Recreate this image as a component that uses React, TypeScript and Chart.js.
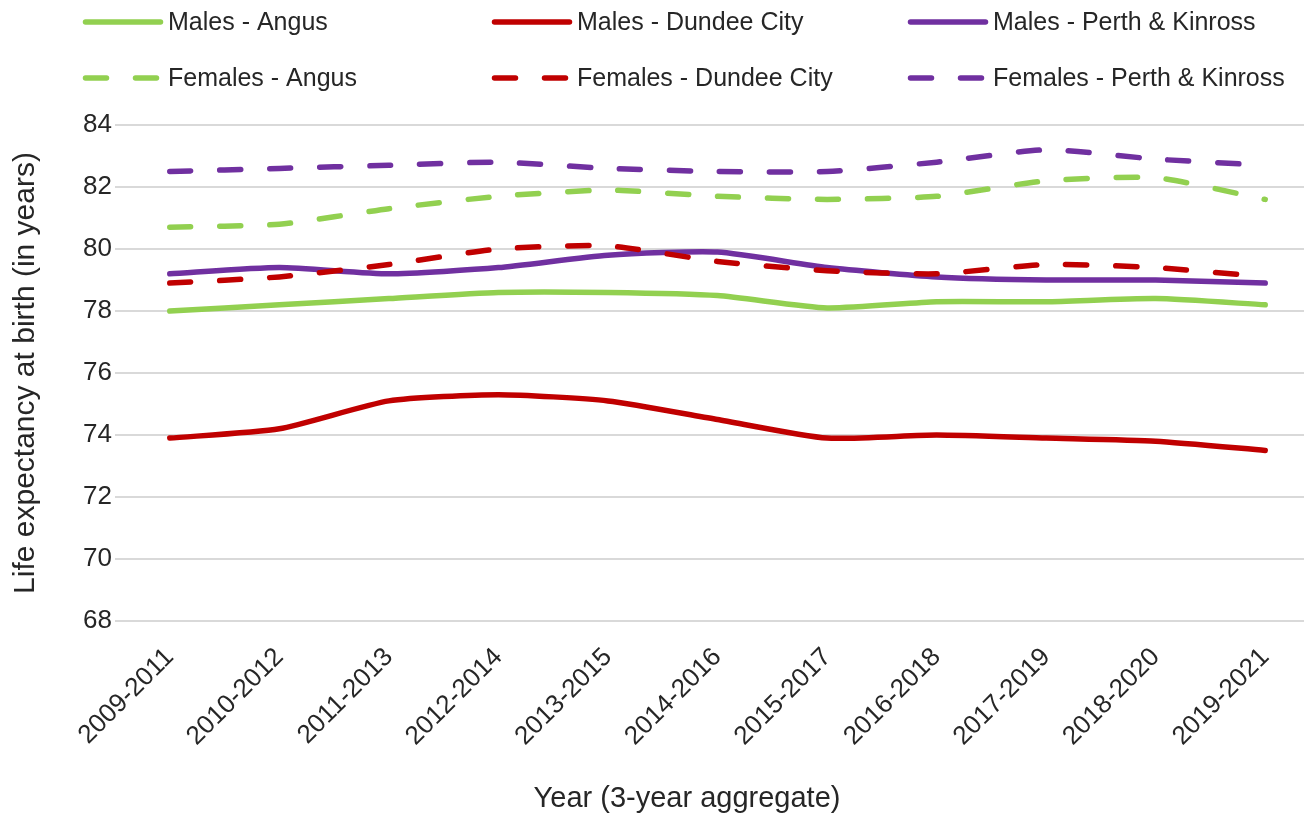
import { useEffect, useRef } from 'react';
import { Chart, registerables } from 'chart.js';

Chart.register(...registerables);

const categories = [
  '2009-2011', '2010-2012', '2011-2013', '2012-2014', '2013-2015', '2014-2016',
  '2015-2017', '2016-2018', '2017-2019', '2018-2020', '2019-2021',
];

const malesAngus = [78.0, 78.2, 78.4, 78.6, 78.6, 78.5, 78.1, 78.3, 78.3, 78.4, 78.2];
const malesDundee = [73.9, 74.2, 75.1, 75.3, 75.1, 74.5, 73.9, 74.0, 73.9, 73.8, 73.5];
const malesPerth = [79.2, 79.4, 79.2, 79.4, 79.8, 79.9, 79.4, 79.1, 79.0, 79.0, 78.9];
const femalesAngus = [80.7, 80.8, 81.3, 81.7, 81.9, 81.7, 81.6, 81.7, 82.2, 82.3, 81.6];
const femalesDundee = [78.9, 79.1, 79.5, 80.0, 80.1, 79.6, 79.3, 79.2, 79.5, 79.4, 79.1];
const femalesPerth = [82.5, 82.6, 82.7, 82.8, 82.6, 82.5, 82.5, 82.8, 83.2, 82.9, 82.7];

const seriesLabels = [
  'Males - Angus', 'Males - Dundee City', 'Males - Perth & Kinross',
  'Females - Angus', 'Females - Dundee City', 'Females - Perth & Kinross',
];

const yMin = 68;
const yMax = 84;
const yStep = 2;

const yTitle = 'Life expectancy at birth (in years)';
const xTitle = 'Year (3-year aggregate)';

const GREEN = '#92D050';
const RED = '#C00000';
const PURPLE = '#7030A0';
const TEXT = '#262626';
const FONT = '"Liberation Sans", Arial, sans-serif';
const DASH = [21, 29];

const gridLegend = {
  id: 'gridLegend',
  afterDraw(chart: any) {
    const ctx = chart.ctx as CanvasRenderingContext2D;
    const colX = [83, 492, 908];
    const rowY = [22, 78];
    const len = 80;
    chart.data.datasets.forEach((ds: any, i: number) => {
      const x = colX[i % 3];
      const y = rowY[Math.floor(i / 3)];
      ctx.save();
      ctx.strokeStyle = ds.borderColor;
      ctx.lineWidth = ds.borderWidth;
      ctx.lineCap = 'round';
      ctx.setLineDash(ds.borderDash || []);
      ctx.beginPath();
      ctx.moveTo(x + 2.5, y);
      ctx.lineTo(x + len - 2.5, y);
      ctx.stroke();
      ctx.setLineDash([]);
      ctx.fillStyle = TEXT;
      ctx.font = `25px ${FONT}`;
      ctx.textAlign = 'left';
      ctx.textBaseline = 'middle';
      ctx.fillText(ds.label, x + len + 5, y + 1);
      ctx.restore();
    });
    ctx.save();
    ctx.fillStyle = TEXT;
    ctx.font = `29px ${FONT}`;
    ctx.textAlign = 'center';
    ctx.textBaseline = 'middle';
    ctx.fillText(xTitle, 687, 799);
    ctx.restore();
  },
};

export default function App() {
  const ref = useRef<HTMLCanvasElement | null>(null);

  useEffect(() => {
    if (!ref.current) return;
    const values = [malesAngus, malesDundee, malesPerth, femalesAngus, femalesDundee, femalesPerth];
    const colors = [GREEN, RED, PURPLE, GREEN, RED, PURPLE];
    const datasets = values.map((v, i) => ({
      label: seriesLabels[i],
      data: v,
      borderColor: colors[i],
      backgroundColor: colors[i],
      borderWidth: 5.5,
      borderDash: i >= 3 ? DASH : [],
      borderCapStyle: 'round' as const,
      borderJoinStyle: 'round' as const,
      pointRadius: 0,
      pointHoverRadius: 0,
      tension: 0.2,
      fill: false,
      order: 5 - i,
    }));

    const chart = new Chart(ref.current, {
      type: 'line',
      data: { labels: categories, datasets },
      plugins: [gridLegend],
      options: {
        responsive: false,
        animation: false,
        devicePixelRatio: 1,
        layout: { padding: { top: 125, left: 0, right: 10, bottom: 0 } },
        plugins: {
          legend: { display: false },
          tooltip: { enabled: false },
        },
        scales: {
          x: {
            type: 'category',
            offset: true,
            grid: { display: false },
            border: { display: false },
            ticks: {
              autoSkip: false,
              minRotation: 45,
              maxRotation: 45,
              padding: 13,
              color: TEXT,
              font: { family: FONT, size: 26 },
            },
            afterFit(scale: any) {
              scale.height = 194;
            },
          },
          y: {
            min: yMin,
            max: yMax,
            grid: { color: '#D9D9D9', lineWidth: 2, drawTicks: false },
            border: { display: false },
            ticks: {
              stepSize: yStep,
              padding: 3,
              color: TEXT,
              font: { family: FONT, size: 26 },
            },
            title: {
              display: true,
              text: yTitle,
              color: TEXT,
              font: { family: FONT, size: 30 },
              padding: { top: 8, bottom: 0 },
            },
            afterFit(scale: any) {
              scale.width = 115;
            },
          },
        },
      },
    });
    return () => chart.destroy();
  }, []);

  return (
    <div style={{ position: 'fixed', left: 0, top: 0, width: 1304, height: 815, overflow: 'hidden', background: '#fff' }}>
      <canvas ref={ref} width={1330} height={815} style={{ display: 'block' }} />
    </div>
  );
}
